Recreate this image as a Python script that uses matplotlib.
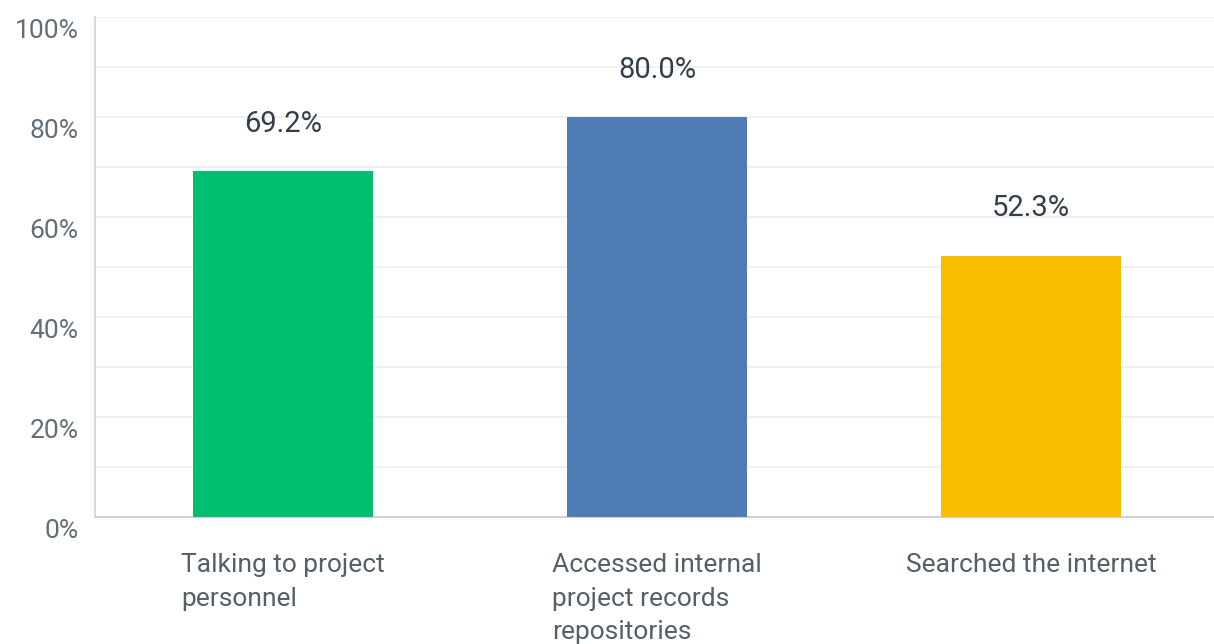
import matplotlib.pyplot as plt
from matplotlib.transforms import offset_copy

categories = ["Talking to project\npersonnel",
              "Accessed internal\nproject records\nrepositories",
              "Searched the internet"]
values = [69.2, 80.0, 52.3]
colors = ["#00BF6F", "#507CB6", "#F9BE00"]
y_ticks = [0, 20, 40, 60, 80, 100]
y_tick_labels = ["0%", "20%", "40%", "60%", "80%", "100%"]

plt.rcParams['font.family'] = ['Roboto', 'DejaVu Sans']

fig = plt.figure(figsize=(12.14, 6.44), dpi=100)
ax = fig.add_axes([95 / 1214, 1 - 517 / 644, 1 - 95 / 1214, 500 / 644])

x = list(range(len(values)))
ax.bar(x, values, width=0.481, color=colors, zorder=3)

ax.set_xlim(-0.503, 2.489)
ax.set_ylim(0, 100)

# light gridlines every 10%
for g in range(10, 101, 10):
    ax.axhline(g, color="#EDEEEE", linewidth=1.2, zorder=1)

for side in ["top", "right"]:
    ax.spines[side].set_visible(False)
ax.spines["left"].set_color("#D0D2D3")
ax.spines["bottom"].set_color("#D0D2D3")
ax.spines["left"].set_linewidth(1.2)
ax.spines["bottom"].set_linewidth(1.5)

ax.set_yticks(y_ticks)
ax.set_yticklabels([])
ax.tick_params(axis="both", length=0)
ax.set_xticks([])

# y tick labels sit a bit below their gridlines
for t, lab in zip(y_ticks, y_tick_labels):
    tr = offset_copy(ax.get_yaxis_transform(), fig=fig, x=-12, y=-10, units="points")
    ax.text(0, t, lab, transform=tr, ha="right", va="center",
            fontsize=19, color="#646D73")

# value labels above bars
for xi, v in zip(x, values):
    tr = offset_copy(ax.transData, fig=fig, x=0, y=34, units="points")
    ax.text(xi, v, f"{v:.1f}%", transform=tr, ha="center", va="center",
            fontsize=21, color="#333E48")

# category labels below axis
for xi, c in zip(x, categories):
    tr = offset_copy(ax.get_xaxis_transform(), fig=fig, x=0, y=-26, units="points")
    ax.text(xi, 0, c, transform=tr, ha="center", va="top", multialignment="left",
            fontsize=19, color="#555F66", linespacing=1.5)

fig.savefig("out.png", dpi=100)
